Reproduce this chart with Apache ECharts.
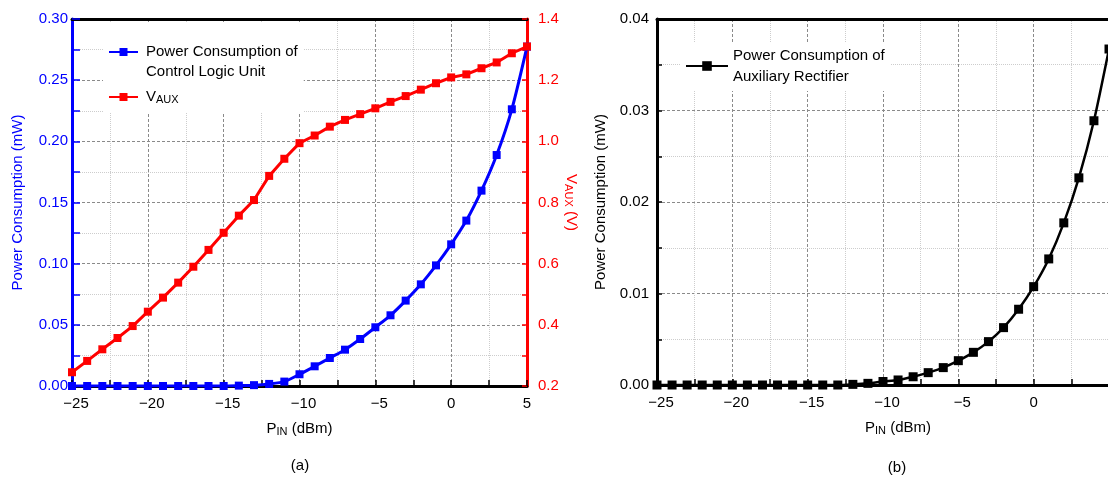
<!DOCTYPE html>
<html><head><meta charset="utf-8">
<script src="https://cdn.jsdelivr.net/npm/echarts@6/dist/echarts.min.js"></script>
<style>html,body{margin:0;padding:0;background:#fff}#c{width:1108px;height:478px}</style>
</head><body><div id="c"></div>
<script>
// ---- data ----
const pin = [-25,-24,-23,-22,-21,-20,-19,-18,-17,-16,-15,-14,-13,-12,-11,-10,-9,-8,-7,-6,-5,-4,-3,-2,-1,0,1,2,3,4,5];
const powerCLU = [0,0,0,0,0,0,0,0,0,0,0,0.0003,0.0007,0.0017,0.0036,0.0096,0.0161,0.0229,0.0297,0.0384,0.048,0.0578,0.0698,0.0831,0.0986,0.1158,0.1352,0.1597,0.1888,0.2262,0.2774];
const vAux = [0.245,0.282,0.320,0.357,0.396,0.443,0.489,0.538,0.590,0.645,0.701,0.757,0.808,0.887,0.943,0.994,1.019,1.048,1.070,1.089,1.108,1.129,1.148,1.169,1.190,1.209,1.219,1.239,1.258,1.288,1.310];
const powerAuxRect = [0,0,0,0,0,0,0,0,0,0,0,0,0,0.00007,0.00018,0.00038,0.00055,0.0009,0.00135,0.0019,0.00266,0.00357,0.00474,0.00627,0.00828,0.01075,0.01378,0.01772,0.02264,0.02888,0.03672];
const xTicks = [-25,-20,-15,-10,-5,0,5];
const yTicksPower = [0,0.05,0.10,0.15,0.20,0.25,0.30];
const yTicksV = [0.2,0.4,0.6,0.8,1.0,1.2,1.4];
const yTicksAux = [0,0.01,0.02,0.03,0.04];
const legendText = {
  CLU: 'Power Consumption of\nControl Logic Unit',
  VAUX: '{a|V}{s|AUX}',
  AUXR: 'Power Consumption of\nAuxiliary Rectifier'
};

// ---- styles ----
const F = '"Liberation Sans",Arial,sans-serif';
const FS = 15, SUB = 11;
function subRich(color, lh){
  return { a:{fontFamily:F,fontSize:FS,color:color,lineHeight:lh||20},
           s:{fontFamily:F,fontSize:SUB,color:color,padding:[5,0,0,0],lineHeight:lh||20} };
}
const majorSplit = {show:true, lineStyle:{color:'#8a8a8a', type:[3,2], width:1}};
const minorSplit = {show:true, lineStyle:{color:'#cdcdcd', type:[1,1], width:1}};
const step = a => +(a[1]-a[0]).toFixed(6);

function xMain(gi, namePad, showMax){
  return {
    type:'value', gridIndex:gi, position:'bottom',
    min:xTicks[0], max:xTicks[xTicks.length-1], interval:step(xTicks),
    axisLine:{show:true, onZero:false, lineStyle:{color:'#000', width:3}},
    axisTick:{show:true, inside:true, length:6, lineStyle:{color:'#000', width:1.5}},
    minorTick:{show:true, splitNumber:2, length:6, lineStyle:{color:'#000', width:1.5}},
    splitLine:majorSplit, minorSplitLine:minorSplit,
    axisLabel:{margin:10, color:'#000', fontFamily:F, fontSize:FS, showMaxLabel:showMax,
      formatter:v => v<0 ? '{n|\u2212'+(-v)+'}' : String(v),
      rich:{n:{fontFamily:F, fontSize:FS, color:'#000', padding:[0,0,0,8]}}},
    name:'{a|P}{s|IN}{a| (dBm)}', nameLocation:'middle', nameGap:33,
    nameTextStyle:{rich:subRich('#000'), padding:namePad}
  };
}
function xTop(gi){
  return {type:'value', gridIndex:gi, position:'top', min:xTicks[0], max:xTicks[xTicks.length-1],
    axisLine:{show:true, onZero:false, lineStyle:{color:'#000', width:3}},
    axisTick:{show:false}, axisLabel:{show:false}, splitLine:{show:false}};
}

const option = {
  animation:false,
  backgroundColor:'#fff',
  grid:[
    {left:72, top:19, width:455, height:367, outerBoundsMode:'none', containLabel:false},
    {left:657, top:19, width:452, height:366, outerBoundsMode:'none', containLabel:false}
  ],
  xAxis:[ xMain(0,[0,0,0,0],true), xTop(0), xMain(1,[0,0,0,30],false), xTop(1) ],
  yAxis:[
    {type:'value', gridIndex:0, position:'left',
     min:yTicksPower[0], max:yTicksPower[yTicksPower.length-1], interval:step(yTicksPower),
     axisLine:{show:true, onZero:false, lineStyle:{color:'#0000ff', width:3}},
     axisTick:{show:true, inside:true, length:8, lineStyle:{color:'#0000ff', width:1.5}},
     minorTick:{show:true, splitNumber:2, length:8, lineStyle:{color:'#0000ff', width:1.5}},
     splitLine:majorSplit, minorSplitLine:minorSplit,
     axisLabel:{margin:4, color:'#0000ff', fontFamily:F, fontSize:FS, formatter:v=>v.toFixed(2)},
     name:'Power Consumption (mW)', nameLocation:'middle', nameGap:47,
     nameTextStyle:{color:'#0000ff', fontFamily:F, fontSize:FS}},
    {type:'value', gridIndex:0, position:'right',
     min:yTicksV[0], max:yTicksV[yTicksV.length-1], interval:step(yTicksV),
     axisLine:{show:true, onZero:false, lineStyle:{color:'#ff0000', width:3}},
     axisTick:{show:true, inside:true, length:5, lineStyle:{color:'#ff0000', width:1.5}},
     minorTick:{show:true, splitNumber:2, length:5, lineStyle:{color:'#ff0000', width:1.5}},
     splitLine:{show:false}, minorSplitLine:{show:false},
     axisLabel:{margin:11, color:'#ff0000', fontFamily:F, fontSize:FS, formatter:v=>v.toFixed(1)},
     name:'{a|V}{s|AUX}{a| (V)}', nameLocation:'middle', nameGap:32, nameRotate:-90,
     nameTextStyle:{rich:subRich('#ff0000')}},
    {type:'value', gridIndex:1, position:'left',
     min:yTicksAux[0], max:yTicksAux[yTicksAux.length-1], interval:step(yTicksAux),
     axisLine:{show:true, onZero:false, lineStyle:{color:'#000', width:3}},
     axisTick:{show:true, inside:true, length:5, lineStyle:{color:'#000', width:1.5}},
     minorTick:{show:true, splitNumber:2, length:5, lineStyle:{color:'#000', width:1.5}},
     splitLine:majorSplit, minorSplitLine:minorSplit,
     axisLabel:{margin:8, color:'#000', fontFamily:F, fontSize:FS, formatter:v=>v.toFixed(2)},
     name:'Power Consumption (mW)', nameLocation:'middle', nameGap:49,
     nameTextStyle:{color:'#000', fontFamily:F, fontSize:FS}}
  ],
  legend:[
    {data:[{name:'CLU', textStyle:{padding:[20,0,0,3]}}, {name:'VAUX', textStyle:{padding:[0,0,0,3]}}],
     orient:'vertical', left:103, top:22, itemWidth:29, itemHeight:10, itemGap:5,
     padding:[0,6,5,5], backgroundColor:'#fff', selectedMode:false,
     textStyle:{fontFamily:F, fontSize:FS, color:'#000', lineHeight:20, rich:subRich('#000')},
     formatter:n=>legendText[n]},
    {data:['AUXR'], orient:'vertical', left:680, top:43, itemWidth:42, itemHeight:12,
     padding:[2,6,4,5], backgroundColor:'#fff', selectedMode:false,
     textStyle:{fontFamily:F, fontSize:FS, color:'#000', lineHeight:21},
     formatter:n=>legendText[n]}
  ],
  graphic:[
    {type:'text', x:300, y:466, style:{text:'(a)', fontFamily:F, fontSize:FS, fill:'#000', align:'center', verticalAlign:'middle'}},
    {type:'text', x:897, y:468, style:{text:'(b)', fontFamily:F, fontSize:FS, fill:'#000', align:'center', verticalAlign:'middle'}}
  ],
  series:[
    {type:'line', name:'CLU', xAxisIndex:0, yAxisIndex:0, data:pin.map((x,i)=>[x,powerCLU[i]]),
     symbol:'rect', symbolSize:8, smooth:0.25, lineStyle:{color:'#0000ff', width:3}, itemStyle:{color:'#0000ff'}, z:3},
    {type:'line', name:'VAUX', xAxisIndex:0, yAxisIndex:1, data:pin.map((x,i)=>[x,vAux[i]]),
     symbol:'rect', symbolSize:8, lineStyle:{color:'#ff0000', width:3}, itemStyle:{color:'#ff0000'}, z:3},
    {type:'line', name:'AUXR', xAxisIndex:2, yAxisIndex:2, data:pin.map((x,i)=>[x,powerAuxRect[i]]),
     symbol:'rect', symbolSize:9, smooth:0.25, lineStyle:{color:'#000', width:2.5}, itemStyle:{color:'#000'}, z:3}
  ]
};
echarts.init(document.getElementById('c')).setOption(option);
</script>
</body></html>
